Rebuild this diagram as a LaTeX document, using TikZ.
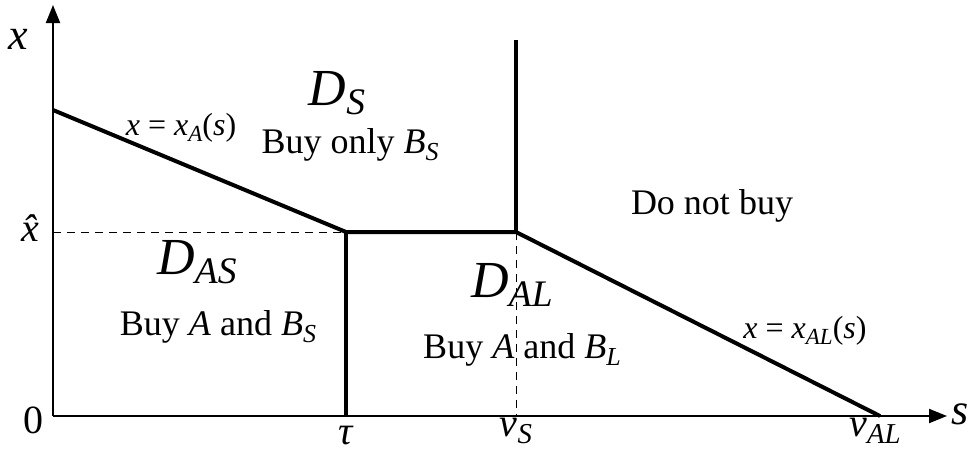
\documentclass[tikz,border=0pt]{standalone}
\usepackage{fontspec}
\setmainfont{Liberation Serif}
\usepackage{tikz}
\usetikzlibrary{arrows.meta}

\newcommand{\ivar}[1]{\textit{#1}}
\newcommand{\isub}[2]{\textit{#1}\raisebox{-0.4ex}{\scalebox{0.72}{\textit{#2}}}}

\begin{document}
\begin{tikzpicture}[x=0.5pt, y=-0.5pt,
    axis/.style={line width=1pt, -{Triangle[length=9pt,width=7pt]}},
    bound/.style={line width=2pt},
    guide/.style={dashed, line width=0.4pt, dash pattern=on 4pt off 3pt},
    region/.style={font=\fontsize{26}{28}\selectfont},
    action/.style={font=\fontsize{18}{20}\selectfont},
    curve/.style={font=\fontsize{16}{18}\selectfont},
    tick/.style={font=\fontsize{20}{22}\selectfont, inner sep=1pt}]
  \useasboundingbox (0,0) rectangle (976,452);
  % Points of the partition
  \coordinate (O) at (53,416);
  \coordinate (Xtop) at (53,5);
  \coordinate (Send) at (947,416);
  \coordinate (P0) at (53,110);
  \coordinate (Ptau) at (346,232);
  \coordinate (Pv) at (516,232);
  \coordinate (Pup) at (516,40);
  \coordinate (Pval) at (880,416);
  \coordinate (Ftau) at (346,416);
  \coordinate (Fv) at (516,416);
  \coordinate (Fx) at (53,232);
  % Axes
  \draw[axis] (O) -- (Xtop);
  \draw[axis] (O) -- (Send);
  % Guides
  \draw[guide] (Fx) -- (Ptau);
  \draw[guide] (Pv) -- (Fv);
  % Region boundaries
  \draw[bound] (P0) -- (Ptau) -- (Pv) -- (Pval);
  \draw[bound] (Ptau) -- (Ftau);
  \draw[bound] (Pv) -- (Pup);
  % Axis labels
  \node[tick, font=\fontsize{22}{24}\selectfont] (xlab) at (18,39) {\ivar{x}};
  \node[tick, font=\fontsize{22}{24}\selectfont] (slab) at (960,414) {\ivar{s}};
  \node[tick] (zero) at (34,420) {0};
  \node[tick] (xhat) at (38,228) {\ivar{\^{x}}};
  \node[tick] (taulab) at (346,436) {\ivar{τ}};
  \node[tick] (vslab) at (516,431) {\isub{v}{S}};
  \node[tick] (valab) at (875,431) {\isub{v}{AL}};
  % Curves
  \node[curve] (xA) at (181,128) {\ivar{x} = \isub{x}{A}(\ivar{s})};
  \node[curve] (xAL) at (805,331) {\ivar{x} = \isub{x}{AL}(\ivar{s})};
  % Regions
  \node[region] (DS) at (337,93) {\isub{D}{S}};
  \node[action] (onlyBS) at (350,145) {Buy only \isub{B}{S}};
  \node[region] (DAS) at (197,262) {\isub{D}{AS}};
  \node[action] (ABS) at (218,327) {Buy \ivar{A} and \isub{B}{S}};
  \node[region] (DAL) at (512,285) {\isub{D}{AL}};
  \node[action] (ABL) at (522,350) {Buy \ivar{A} and \isub{B}{L}};
  \node[action] (none) at (712,206) {Do not buy};
\end{tikzpicture}
\end{document}
